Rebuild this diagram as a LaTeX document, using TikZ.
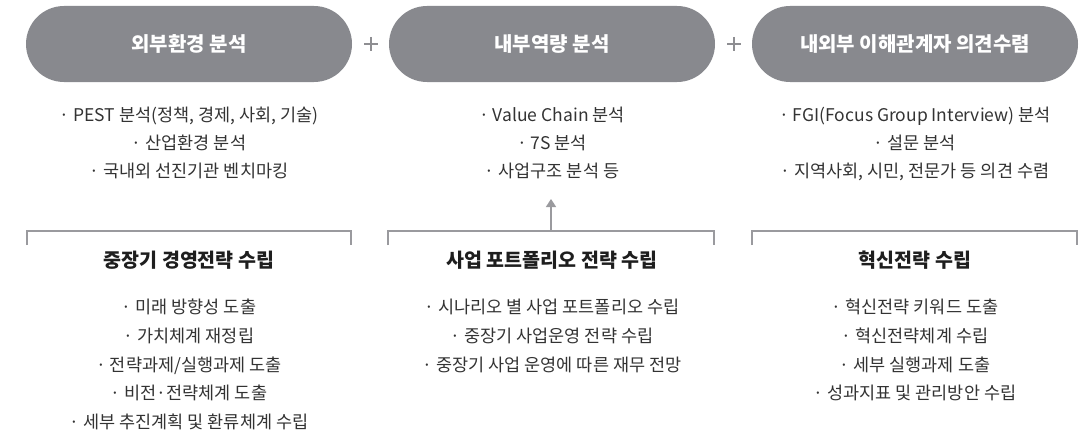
\documentclass[tikz,border=0pt]{standalone}
\usepackage{fontspec}
\setmainfont{Noto Sans CJK KR}
\usetikzlibrary{arrows.meta}
\definecolor{pillgray}{HTML}{88898E}
\definecolor{linegray}{HTML}{9A9A9E}
\definecolor{plusgray}{HTML}{8E8E92}
\definecolor{txt}{HTML}{333333}
\definecolor{ttl}{HTML}{1E1E1E}
\tikzset{
  pill/.style={fill=pillgray, rounded corners=38pt, minimum width=326pt, minimum height=76pt, inner sep=0pt,
    text=white, font=\fontsize{20}{24}\selectfont\bfseries},
  bul/.style={anchor=base, inner sep=0pt, text=txt, font=\fontsize{17.5}{21}\selectfont},
  ttlstyle/.style={anchor=base, inner sep=0pt, text=ttl, font=\fontsize{19.5}{23}\selectfont\bfseries},
  brk/.style={draw=linegray, line width=1.4pt},
  plussign/.style={draw=plusgray, line width=1.1pt},
  uparrow/.style={draw=linegray, line width=1.6pt, -{Triangle[length=8pt,width=10pt]}}
}
\begin{document}
\begin{tikzpicture}[x=1pt,y=-1pt]
\useasboundingbox (0,0) rectangle (1091,436);
% pills
\node[pill] (p1) at (189,44) {외부환경 분석};
\node[pill] (p2) at (552,44) {내부역량 분석};
\node[pill] (p3) at (915,44) {내외부 이해관계자 의견수렴};
% plus signs
\draw[plussign] (364,44) -- (378,44) (371,37) -- (371,51);
\draw[plussign] (727,44) -- (741,44) (734,37) -- (734,51);
% top bullets
\node[bul] (a1) at (189,121.5) {· PEST 분석(정책, 경제, 사회, 기술)};
\node[bul] (a2) at (189,149.5) {· 산업환경 분석};
\node[bul] (a3) at (189,177.5) {· 국내외 선진기관 벤치마킹};
\node[bul] (b1) at (552,121.5) {· Value Chain 분석};
\node[bul] (b2) at (552,149.5) {· 7S 분석};
\node[bul] (b3) at (552,177.5) {· 사업구조 분석 등};
\node[bul] (c1) at (915,121.5) {· FGI(Focus Group Interview) 분석};
\node[bul] (c2) at (915,149.5) {· 설문 분석};
\node[bul] (c3) at (915,177.5) {· 지역사회, 시민, 전문가 등 의견 수렴};
% brackets
\draw[brk] (27,245) -- (27,231) -- (351,231) -- (351,245);
\draw[brk] (388,245) -- (388,231) -- (714,231) -- (714,245);
\draw[brk] (752,245) -- (752,231) -- (1077,231) -- (1077,245);
\coordinate (arrbase) at (551,231);
\coordinate (arrtip) at (551,199);
\draw[uparrow] (arrbase) -- (arrtip);
% bottom titles
\node[ttlstyle] (t1) at (189,267.5) {중장기 경영전략 수립};
\node[ttlstyle] (t2) at (552,267.5) {사업 포트폴리오 전략 수립};
\node[ttlstyle] (t3) at (915,267.5) {혁신전략 수립};
% bottom bullets
\node[bul] (d1) at (189,313.5) {· 미래 방향성 도출};
\node[bul] (d2) at (189,342.5) {· 가치체계 재정립};
\node[bul] (d3) at (189,371.5) {· 전략과제/실행과제 도출};
\node[bul] (d4) at (189,399.5) {· 비전·전략체계 도출};
\node[bul] (d5) at (189,428.5) {· 세부 추진계획 및 환류체계 수립};
\node[bul] (e1) at (552,313.5) {· 시나리오 별 사업 포트폴리오 수립};
\node[bul] (e2) at (552,342.5) {· 중장기 사업운영 전략 수립};
\node[bul] (e3) at (552,371.5) {· 중장기 사업 운영에 따른 재무 전망};
\node[bul] (f1) at (915,313.5) {· 혁신전략 키워드 도출};
\node[bul] (f2) at (915,342.5) {· 혁신전략체계 수립};
\node[bul] (f3) at (915,371.5) {· 세부 실행과제 도출};
\node[bul] (f4) at (915,399.5) {· 성과지표 및 관리방안 수립};
\end{tikzpicture}
\end{document}
